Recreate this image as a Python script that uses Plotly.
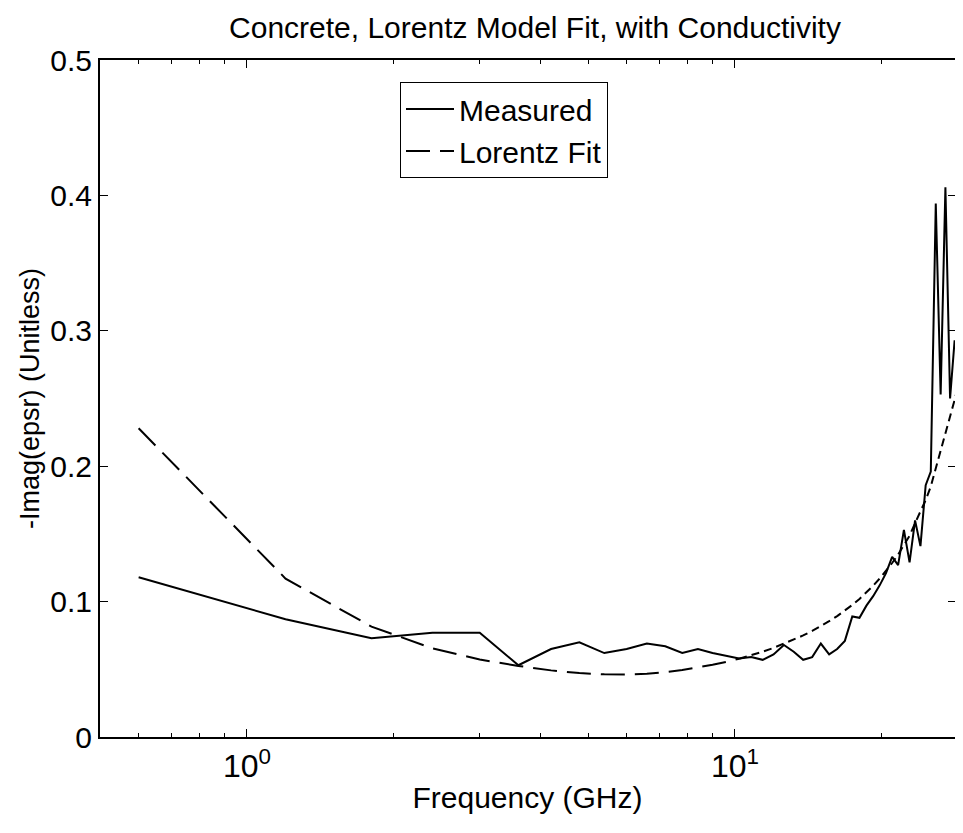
import math
import plotly.graph_objects as go

# ---------------- data ----------------
freq_ghz = [0.6, 1.2, 1.8, 2.4, 3.0, 3.6, 4.2, 4.8, 5.4, 6.0,
            6.6, 7.2, 7.8, 8.4, 9.0, 9.6, 10.2, 10.8, 11.4, 12.0,
            12.6, 13.2, 13.8, 14.4, 15.0, 15.6, 16.2, 16.8, 17.4, 18.0,
            18.6, 19.2, 19.8, 20.4, 21.0, 21.6, 22.2, 22.8, 23.4, 24.0,
            24.6, 25.2, 25.8, 26.4, 27.0, 27.6, 28.2, 28.8, 29.4, 30.0]

measured = [0.118, 0.087, 0.073, 0.077, 0.077, 0.053, 0.065, 0.070, 0.062, 0.065,
            0.069, 0.067, 0.062, 0.065, 0.062, 0.060, 0.058, 0.059, 0.057, 0.061,
            0.068, 0.063, 0.057, 0.059, 0.069, 0.061, 0.065, 0.071, 0.089, 0.088,
            0.097, 0.104, 0.112, 0.121, 0.133, 0.127, 0.153, 0.129, 0.160, 0.141,
            0.186, 0.196, 0.394, 0.253, 0.406, 0.250, 0.293, 0.273, 0.296, 0.285]

lorentz_fit = [0.228, 0.117, 0.0815, 0.0655, 0.0572, 0.0525, 0.0492, 0.0472, 0.0463, 0.0462,
               0.0467, 0.0478, 0.0495, 0.0513, 0.0533, 0.0555, 0.0578, 0.0603, 0.0630, 0.0658,
               0.0688, 0.0718, 0.0750, 0.0783, 0.0818, 0.0855, 0.0893, 0.0933, 0.0975, 0.1020,
               0.1067, 0.1117, 0.1170, 0.1226, 0.1285, 0.1348, 0.1415, 0.1486, 0.1580, 0.1660,
               0.1750, 0.1850, 0.1980, 0.2110, 0.2230, 0.2360, 0.2490, 0.2620, 0.2760, 0.2900]

x_major_ticks = [1, 10]
x_major_labels = ["10<sup>0</sup>", "10<sup>1</sup>"]
x_minor_ticks = [0.6, 0.7, 0.8, 0.9, 2, 3, 4, 5, 6, 7, 8, 9, 20]
y_ticks = [0, 0.1, 0.2, 0.3, 0.4, 0.5]
y_labels = ["0", "0.1", "0.2", "0.3", "0.4", "0.5"]

title_text = "Concrete, Lorentz Model Fit, with Conductivity"
x_title = "Frequency (GHz)"
y_title = "-Imag(epsr) (Unitless)"

# ---------------- figure ----------------
FONT = "Liberation Sans, Arial, sans-serif"
split = freq_ghz.index(10.2)

fig = go.Figure()
fig.add_trace(go.Scatter(x=freq_ghz, y=measured, mode="lines", name="Measured",
                         line=dict(color="black", width=2)))
fig.add_trace(go.Scatter(x=freq_ghz[:split + 1], y=lorentz_fit[:split + 1], mode="lines",
                         name="Lorentz Fit", legendgroup="fit",
                         line=dict(color="black", width=2, dash="24px,10px")))
fig.add_trace(go.Scatter(x=freq_ghz[split:], y=lorentz_fit[split:], mode="lines",
                         name="Lorentz Fit", legendgroup="fit", showlegend=False,
                         line=dict(color="black", width=2, dash="8px,5px")))
# dummy trace to carry the right-hand tick axis
fig.add_trace(go.Scatter(x=[freq_ghz[0]], y=[None], yaxis="y2", showlegend=False,
                         hoverinfo="skip"))

# the page body has an 8px margin on every side, so the figure fits inside it
FIG_W, FIG_H = 947, 817
plot_left = 92
plot_top = 52
plot_bottom = 729
plot_w = FIG_W - plot_left
plot_h = plot_bottom - plot_top
decade_px = 488
x_lo = math.log10(0.5)
x_hi = x_lo + plot_w / decade_px

fig.update_layout(
    width=FIG_W, height=FIG_H,
    margin=dict(l=plot_left, r=0, t=plot_top, b=FIG_H - plot_bottom, pad=0),
    paper_bgcolor="white", plot_bgcolor="white",
    font=dict(family=FONT, size=29, color="black"),
    title=dict(text=title_text, x=(535 - 8 - plot_left) / plot_w, xref="paper",
               xanchor="center",
               y=1 - 19 / FIG_H, yref="container", yanchor="middle",
               font=dict(family=FONT, size=30, color="black")),
    xaxis=dict(type="log", range=[x_lo, x_hi], automargin=False,
               tickvals=x_major_ticks, ticktext=x_major_labels,
               ticks="inside", ticklen=8, tickwidth=1, tickcolor="black",
               minor=dict(tickvals=x_minor_ticks, ticks="inside", ticklen=4,
                          tickwidth=1, tickcolor="black", showgrid=False),
               showline=True, linecolor="black", linewidth=2, mirror="ticks",
               showgrid=False, zeroline=False,
               tickfont=dict(family=FONT, size=32, color="black"),
               title=dict(text=x_title, font=dict(family=FONT, size=30, color="black"),
                          standoff=4)),
    yaxis=dict(range=[0, 0.5], tickvals=y_ticks, ticktext=y_labels, automargin=False,
               ticks="inside", ticklen=8, tickwidth=1, tickcolor="black",
               showline=True, linecolor="black", linewidth=2, mirror=False,
               showgrid=False, zeroline=False,
               tickfont=dict(family=FONT, size=30, color="black"),
               title=dict(text=y_title, font=dict(family=FONT, size=27, color="black"),
                          standoff=3)),
    yaxis2=dict(range=[0, 0.5], overlaying="y", side="right", tickvals=y_ticks,
                automargin=False,
                ticks="inside", ticklen=7, tickwidth=1, tickcolor="black",
                showticklabels=False, showline=False, showgrid=False, zeroline=False),
    legend=dict(x=(400 - 8 - plot_left) / plot_w, y=(plot_bottom - (82 - 8)) / plot_h,
                xanchor="left", yanchor="top",
                bordercolor="black", borderwidth=1, bgcolor="white",
                font=dict(family=FONT, size=30, color="black"),
                itemwidth=48, tracegroupgap=0),
    showlegend=True,
)

fig.write_html("out.html")
